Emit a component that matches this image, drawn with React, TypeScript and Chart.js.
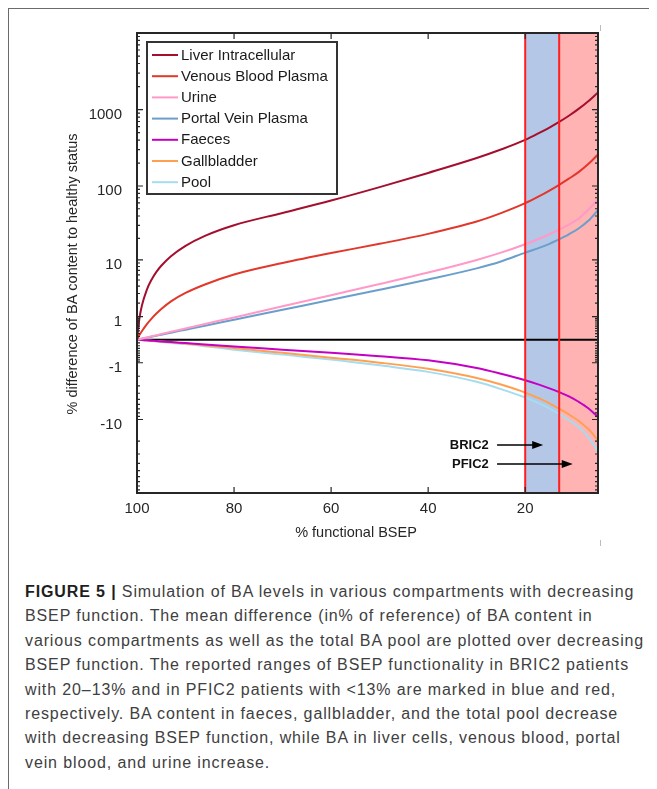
import React, { useEffect, useRef, useState } from 'react';
import { Chart, registerables, Scale } from 'chart.js';

Chart.register(...registerables);

// ---------------- DATA ----------------
const X_VALUES = [100, 99.5, 99, 98, 97, 96, 95, 93, 90, 86, 80, 70, 60, 50, 40, 30, 25, 20, 17, 15, 13, 11, 9, 7, 5];

const LIVER = [0, 0.9, 1.77, 3.44, 5.06, 6.65, 8.21, 11.27, 15.75, 21.6, 30.1, 44.0, 64.3, 96.7, 148.6, 233, 301, 402, 500, 584, 691, 831, 1022, 1287, 1678];
const VENOUS = [0, 0.148, 0.288, 0.585, 0.884, 1.19, 1.51, 2.16, 3.07, 4.25, 6.08, 9.0, 12.5, 16.8, 23.0, 33.7, 43.7, 59.3, 74.0, 87.1, 103.7, 124.9, 152.1, 194, 259];
const URINE = [0, 0.017, 0.034, 0.069, 0.105, 0.143, 0.182, 0.265, 0.4, 0.6, 0.95, 1.72, 2.8, 4.31, 6.5, 9.96, 12.65, 16.58, 19.89, 22.71, 26.23, 30.62, 37.02, 48.55, 66.6];
const PORTAL = [0, 0.015, 0.03, 0.062, 0.094, 0.127, 0.161, 0.233, 0.349, 0.521, 0.82, 1.455, 2.31, 3.47, 5.1, 7.51, 9.47, 12.65, 14.85, 16.78, 19.42, 22.71, 27.18, 34.48, 47.98];
const FAECES = [0, -0.0046, -0.0093, -0.021, -0.0316, -0.042, -0.053, -0.076, -0.109, -0.156, -0.227, -0.349, -0.486, -0.641, -0.862, -1.344, -1.786, -2.388, -2.89, -3.315, -3.842, -4.495, -5.457, -6.852, -9.233];
const GALLBLADDER = [0, -0.0058, -0.0116, -0.023, -0.035, -0.047, -0.059, -0.084, -0.122, -0.189, -0.288, -0.486, -0.718, -0.995, -1.399, -2.162, -2.846, -3.898, -4.888, -5.761, -6.943, -8.441, -10.48, -13.62, -19.42];
const POOL = [0, -0.0069, -0.0139, -0.028, -0.042, -0.057, -0.072, -0.102, -0.143, -0.216, -0.349, -0.567, -0.811, -1.163, -1.63, -2.548, -3.416, -4.689, -5.839, -6.852, -8.333, -10.22, -12.8, -17.62, -27.84];

const SERIES_LABELS = ['Liver Intracellular', 'Venous Blood Plasma', 'Urine', 'Portal Vein Plasma', 'Faeces', 'Gallbladder', 'Pool'];
const SERIES_VALUES = [LIVER, VENOUS, URINE, PORTAL, FAECES, GALLBLADDER, POOL];

const X_TICKS = [100, 80, 60, 40, 20];
const Y_TICKS = [-10, -1, 1, 10, 100, 1000];
const Y_DECADES = [0.1, 1, 10, 100, 1000];
const Y_MINOR_MULTS = [2, 3, 4, 5, 6, 7, 8, 9];
const X_MIN = 5;
const X_MAX = 100;
const Y_MIN = -99;
const Y_MAX = 9999;

// BSEP functionality ranges: BRIC2 20–13 %, PFIC2 < 13 %
const RANGE_BOUNDS = [20, 13, 5];

const ANNOTATIONS = [
  { label: 'BRIC2', textX: 27.5, fromX: 25.8, toX: 16.3, y: -22.6 },
  { label: 'PFIC2', textX: 27.5, fromX: 25.8, toX: 10.2, y: -40.8 },
];

const CAPTION_HEAD = 'FIGURE 5 | ';
const CAPTION_LINES = [
  'Simulation of BA levels in various compartments with decreasing',
  'BSEP function. The mean difference (in% of reference) of BA content in',
  'various compartments as well as the total BA pool are plotted over decreasing',
  'BSEP function. The reported ranges of BSEP functionality in BRIC2 patients',
  'with 20–13% and in PFIC2 patients with <13% are marked in blue and red,',
  'respectively. BA content in faeces, gallbladder, and the total pool decrease',
  'with decreasing BSEP function, while BA in liver cells, venous blood, portal',
  'vein blood, and urine increase.',
];

// ---------------- STYLES ----------------
const COLORS = ['#a50f2e', '#e2372b', '#ff99c8', '#6a9fcc', '#c400c4', '#ffa050', '#a6dcef'];
const BAND_COLORS = ['#b4c7e7', '#ffb3b3'];
const FONT = "'Liberation Sans', Arial, Helvetica, sans-serif";
const INK = '#262626';
const CAPTION_SIZE = 16;
const CAPTION_LINE3_WIDTH = 620;

// ---------------- symmetric log scale ----------------
const symT = (v: number) => Math.sign(v) * Math.log10(1 + Math.abs(v));
const symInv = (t: number) => Math.sign(t) * (Math.pow(10, Math.abs(t)) - 1);

class SymLogScale extends Scale {
  static id = 'symlog';
  static defaults = {};
  determineDataLimits() {
    const self: any = this;
    self.min = self.options.min;
    self.max = self.options.max;
  }
  buildTicks() {
    return Y_TICKS.map((v) => ({ value: v }));
  }
  getLabelForValue(value: number) {
    return String(value);
  }
  configure() {
    super.configure();
    const self: any = this;
    self._tMin = symT(self.min);
    self._tMax = symT(self.max);
  }
  getPixelForValue(value: number) {
    const self: any = this;
    if (value === null || value === undefined || isNaN(value)) return NaN;
    return self.getPixelForDecimal((symT(value) - self._tMin) / (self._tMax - self._tMin));
  }
  getValueForPixel(pixel: number) {
    const self: any = this;
    return symInv(self._tMin + self.getDecimalForPixel(pixel) * (self._tMax - self._tMin));
  }
}
Chart.register(SymLogScale as any);

// ---------------- decoration plugin ----------------
const decorPlugin = {
  id: 'decor',
  beforeDatasetsDraw(chart: any) {
    const { ctx, chartArea: a, scales } = chart;
    const x = scales.x;
    const y = scales.y;
    ctx.save();
    for (let i = 0; i < RANGE_BOUNDS.length - 1; i++) {
      const x1 = x.getPixelForValue(RANGE_BOUNDS[i]);
      const x2 = x.getPixelForValue(RANGE_BOUNDS[i + 1]);
      ctx.fillStyle = BAND_COLORS[i];
      ctx.fillRect(Math.min(x1, x2), a.top, Math.abs(x2 - x1), a.bottom - a.top);
    }
    const y0 = y.getPixelForValue(0);
    ctx.strokeStyle = '#000';
    ctx.lineWidth = 2;
    ctx.beginPath();
    ctx.moveTo(a.left, y0);
    ctx.lineTo(a.right, y0);
    ctx.stroke();
    ctx.restore();
  },
  afterDatasetsDraw(chart: any) {
    const { ctx, chartArea: a, scales } = chart;
    const x = scales.x;
    const y = scales.y;
    ctx.save();

    // red range boundaries
    ctx.strokeStyle = '#ff1f1f';
    ctx.lineWidth = 2;
    RANGE_BOUNDS.slice(0, 2).forEach((b) => {
      const px = x.getPixelForValue(b);
      ctx.beginPath();
      ctx.moveTo(px, a.top);
      ctx.lineTo(px, a.bottom);
      ctx.stroke();
    });

    // axes box
    ctx.strokeStyle = INK;
    ctx.lineWidth = 2;
    ctx.strokeRect(a.left, a.top, a.right - a.left, a.bottom - a.top);

    // inward ticks
    ctx.lineWidth = 1.2;
    const yTick = (v: number, len: number) => {
      const py = y.getPixelForValue(v);
      if (py < a.top - 0.5 || py > a.bottom + 0.5) return;
      ctx.beginPath();
      ctx.moveTo(a.left, py);
      ctx.lineTo(a.left + len, py);
      ctx.moveTo(a.right, py);
      ctx.lineTo(a.right - len, py);
      ctx.stroke();
    };
    Y_DECADES.forEach((d) => {
      [1, -1].forEach((s) => {
        yTick(s * d, d >= 1 ? 6 : 3);
        Y_MINOR_MULTS.forEach((m) => yTick(s * d * m, 3));
      });
    });
    X_TICKS.forEach((v) => {
      const px = x.getPixelForValue(v);
      ctx.beginPath();
      ctx.moveTo(px, a.bottom);
      ctx.lineTo(px, a.bottom - 6);
      ctx.moveTo(px, a.top);
      ctx.lineTo(px, a.top + 6);
      ctx.stroke();
    });

    // legend box
    const lx = a.left + 10;
    const ly = a.top + 9;
    const lw = 190;
    const lh = 152;
    ctx.fillStyle = '#fff';
    ctx.fillRect(lx, ly, lw, lh);
    ctx.strokeStyle = '#333';
    ctx.lineWidth = 2;
    ctx.strokeRect(lx, ly, lw, lh);
    ctx.font = `15px ${FONT}`;
    ctx.textBaseline = 'middle';
    ctx.textAlign = 'left';
    chart.data.datasets.forEach((ds: any, i: number) => {
      const ry = ly + 13 + i * 21.2;
      ctx.strokeStyle = ds.borderColor;
      ctx.lineWidth = 2;
      ctx.beginPath();
      ctx.moveTo(lx + 5, ry);
      ctx.lineTo(lx + 31, ry);
      ctx.stroke();
      ctx.fillStyle = '#1a1a1a';
      ctx.fillText(ds.label, lx + 34, ry + 0.5);
    });

    // annotations
    ctx.font = `bold 13px ${FONT}`;
    ctx.fillStyle = '#111';
    ctx.strokeStyle = '#000';
    ANNOTATIONS.forEach((an) => {
      const py = y.getPixelForValue(an.y);
      const tx = x.getPixelForValue(an.textX);
      const fx = x.getPixelForValue(an.fromX);
      const tox = x.getPixelForValue(an.toX);
      ctx.textAlign = 'right';
      ctx.textBaseline = 'middle';
      ctx.fillText(an.label, tx, py);
      ctx.lineWidth = 1.5;
      ctx.beginPath();
      ctx.moveTo(fx, py);
      ctx.lineTo(tox - 8, py);
      ctx.stroke();
      ctx.fillStyle = '#000';
      ctx.beginPath();
      ctx.moveTo(tox, py);
      ctx.lineTo(tox - 11, py - 4);
      ctx.lineTo(tox - 11, py + 4);
      ctx.closePath();
      ctx.fill();
      ctx.fillStyle = '#111';
    });

    // axis titles
    ctx.fillStyle = INK;
    ctx.font = `14.5px ${FONT}`;
    ctx.textAlign = 'center';
    ctx.textBaseline = 'middle';
    ctx.fillText('% functional BSEP', a.left + 219, a.bottom + 40);
    ctx.translate(a.left - 64, a.top + 241);
    ctx.rotate(-Math.PI / 2);
    ctx.fillText('% difference of BA content to healthy status', 0, 0);

    ctx.restore();
  },
};

export default function App() {
  const canvasRef = useRef<HTMLCanvasElement | null>(null);
  const [spacing, setSpacing] = useState(0);

  useEffect(() => {
    const c = document.createElement('canvas').getContext('2d');
    if (!c) return;
    c.font = `${CAPTION_SIZE}px ${FONT}`;
    const line = CAPTION_LINES[2];
    const w = c.measureText(line).width;
    setSpacing((CAPTION_LINE3_WIDTH - w) / line.length);
  }, []);

  useEffect(() => {
    if (!canvasRef.current) return;
    const datasets = SERIES_LABELS.map((label, i) => ({
      label,
      data: X_VALUES.map((xv, j) => ({ x: xv, y: SERIES_VALUES[i][j] })),
      borderColor: COLORS[i],
      backgroundColor: COLORS[i],
      borderWidth: 2,
      pointRadius: 0,
      fill: false,
      cubicInterpolationMode: 'monotone' as const,
    }));
    const chart = new Chart(canvasRef.current, {
      type: 'line',
      data: { datasets },
      options: {
        animation: false,
        responsive: false,
        layout: { padding: { left: 0, right: 10, top: 25, bottom: 0 } },
        plugins: { legend: { display: false }, tooltip: { enabled: false } },
        scales: {
          x: {
            type: 'linear',
            min: X_MIN,
            max: X_MAX,
            reverse: true,
            grid: { display: false, drawTicks: false },
            border: { display: false },
            ticks: { padding: 7, color: INK, font: { size: 15, family: FONT } },
            afterBuildTicks: (s: any) => {
              s.ticks = X_TICKS.map((v) => ({ value: v }));
            },
            afterFit: (s: any) => {
              s.height = 55;
            },
          },
          y: {
            type: 'symlog' as any,
            position: 'left',
            min: Y_MIN,
            max: Y_MAX,
            grid: { display: false, drawTicks: false },
            border: { display: false },
            ticks: { padding: 15, labelOffset: 5, color: INK, font: { size: 15, family: FONT } },
            afterFit: (s: any) => {
              s.width = 129;
            },
          } as any,
        },
      },
      plugins: [decorPlugin],
    });
    return () => chart.destroy();
  }, []);

  return (
    <div style={{ position: 'relative', width: 649, height: 781, overflow: 'hidden' }}>
      <div style={{ position: 'absolute', left: 0, top: 0, width: 649, height: 1, background: '#6b6b6b' }} />
      <div style={{ position: 'absolute', left: 0, top: 0, width: 1, height: 781, background: '#6b6b6b' }} />
      <div style={{ position: 'absolute', left: 592, top: 17, width: 1, height: 6, background: '#bbb' }} />
      <div style={{ position: 'absolute', left: 592, top: 532, width: 1, height: 6, background: '#bbb' }} />
      <canvas ref={canvasRef} width={600} height={540} style={{ position: 'absolute', left: 0, top: 0 }} />
      <div
        style={{
          position: 'absolute',
          left: 17,
          top: 572,
          fontFamily: FONT,
          fontSize: CAPTION_SIZE,
          lineHeight: '24.4px',
          letterSpacing: `${spacing}px`,
          color: '#404040',
          whiteSpace: 'nowrap',
        }}
      >
        {CAPTION_LINES.map((line, i) => (
          <div key={i}>
            {i === 0 ? <b style={{ fontWeight: 700, color: '#1e1e1e' }}>{CAPTION_HEAD}</b> : null}
            {line}
          </div>
        ))}
      </div>
    </div>
  );
}
